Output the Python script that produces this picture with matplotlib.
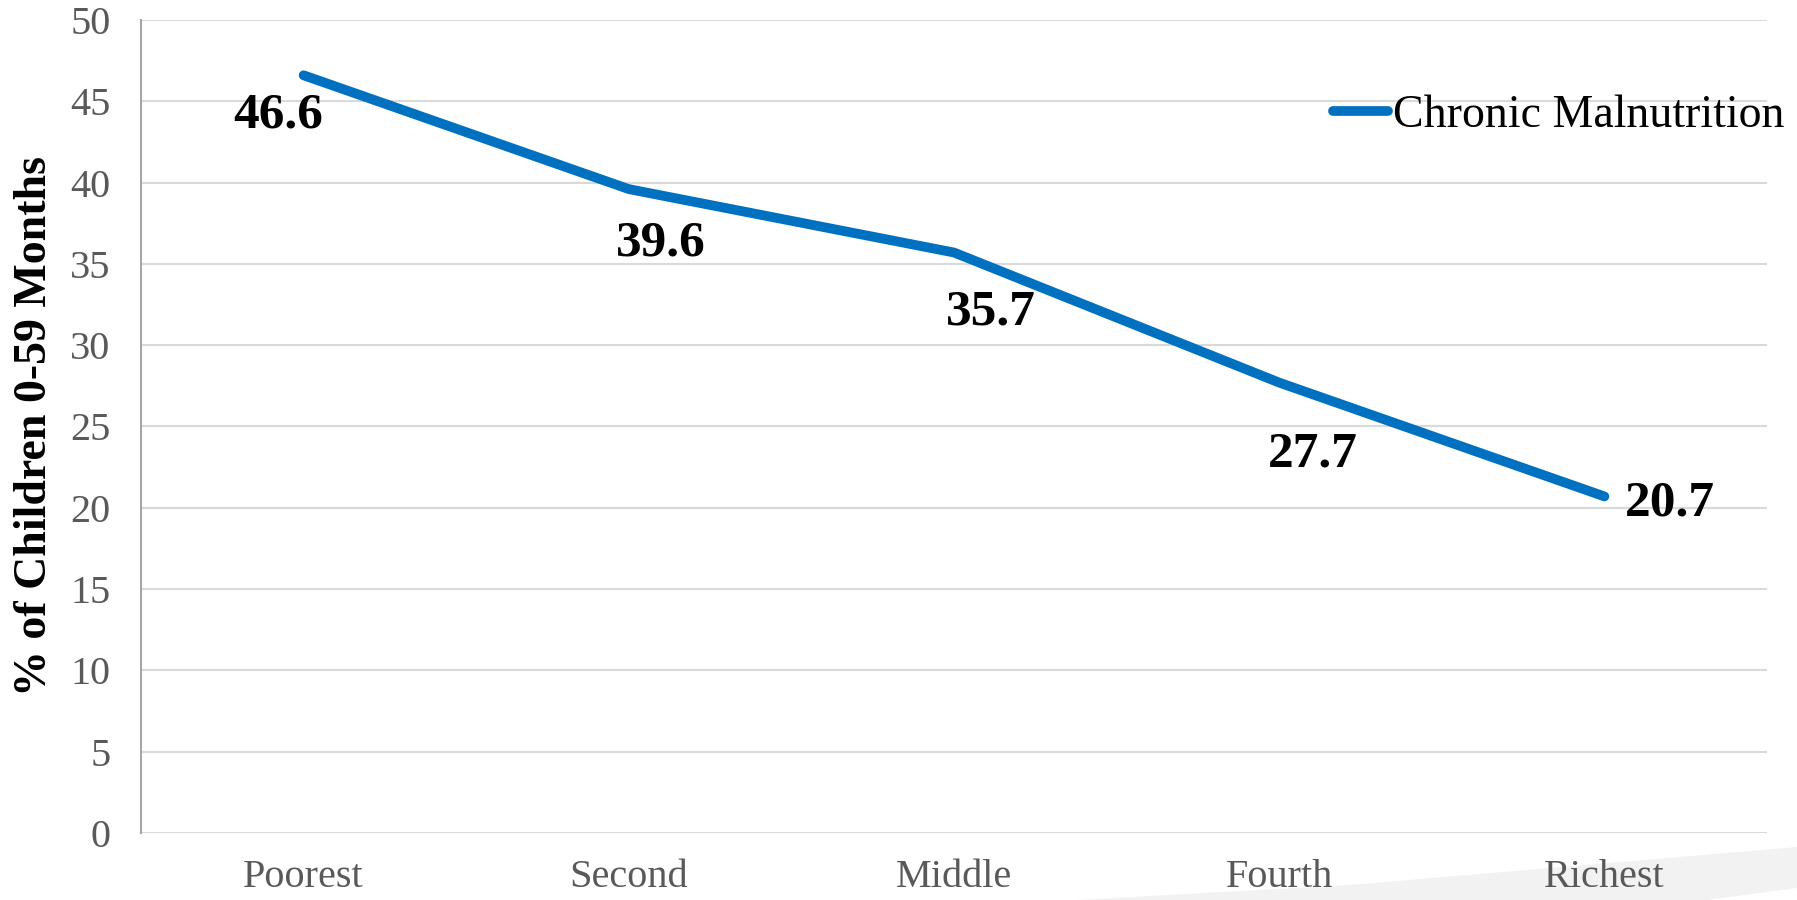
import matplotlib.pyplot as plt
from matplotlib.patches import Polygon

# wealth quintiles and stunting rates
quintiles = ["Poorest", "Second", "Middle", "Fourth", "Richest"]
malnutrition = [46.6, 39.6, 35.7, 27.7, 20.7]
# where each value label sits relative to its point (pixels)
label_offsets = [(-25, -40), (32, -54), (37, -60), (34, -72), (65, -7)]

plt.rcParams['font.family'] = ['Liberation Serif', 'DejaVu Serif']

fig = plt.figure(figsize=(17.97, 9), dpi=100)
ax = fig.add_axes([141 / 1797, 67 / 900, 1626 / 1797, 813 / 900])
ax.patch.set_alpha(0)

# light grey slide decoration in the bottom right corner
band = Polygon([(1077 / 1797, 0), (1350 / 1797, 15 / 900), (1, 53 / 900),
                (1, 12 / 900), (1707 / 1797, 0)],
               closed=True, transform=fig.transFigure, facecolor="#F2F2F2",
               edgecolor="none", zorder=-1)
fig.patches.append(band)

x = list(range(len(quintiles)))
ax.plot(x, malnutrition, color="#0070C0", linewidth=7, solid_capstyle="round",
        label="Chronic Malnutrition", zorder=3)

for xi, v, off in zip(x, malnutrition, label_offsets):
    ax.annotate(f"{v:.1f}", (xi, v), xytext=off, textcoords="offset pixels",
                ha="center", va="center", fontsize=37, fontweight="bold",
                color="black", zorder=4)

ax.set_xlim(-0.5, len(quintiles) - 0.5)
ax.set_ylim(0, 50)
ax.set_yticks(range(0, 51, 5))
ax.set_xticks(x)
ax.set_xticklabels(quintiles)
ax.tick_params(axis="both", length=0, labelsize=29, labelcolor="#595959")
ax.tick_params(axis="y", pad=22)
ax.tick_params(axis="x", pad=19)
ax.yaxis.grid(True, color="#D9D9D9", linewidth=1.5)
ax.set_axisbelow(True)

for side in ["top", "right", "bottom"]:
    ax.spines[side].set_visible(False)
ax.spines["left"].set_color("#A6A6A6")
ax.spines["left"].set_linewidth(1.5)

ax.set_ylabel("% of Children 0-59 Months", fontsize=33, fontweight="bold",
              color="black")
ax.yaxis.set_label_coords(-85 / 1626, 0.5)

ax.legend(loc="center left", bbox_to_anchor=(1333 / 1797, 1 - 116 / 900),
          bbox_transform=fig.transFigure, frameon=False, fontsize=33,
          handlelength=1.2, handletextpad=0.1, borderpad=0, borderaxespad=0)

fig.savefig("out.png", dpi=100)
